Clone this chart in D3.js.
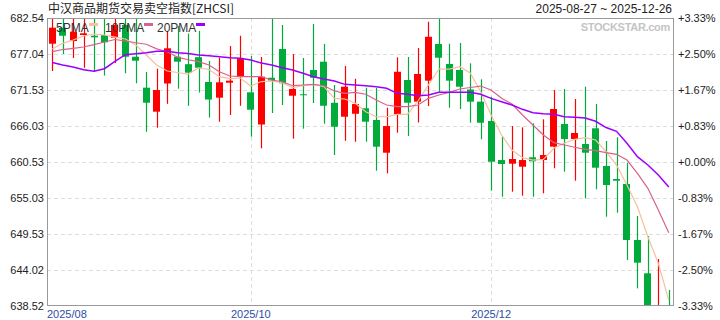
<script src="https://d3js.org/d3.v7.min.js"></script>
<style>
    body { background: #fff; margin: 0; font-family: "Liberation Sans", Arial, sans-serif; }
    svg { display: block; }
</style>
<svg width="720" height="320"></svg>
<script>
    // candles (60 sessions)
    const open  = [678.61,681.06,679.02,679.94,679.83,679.94,679.53,681.47,676.62,671.89,
                   668.22,672.53,676.62,675.48,676.55,672.76,670.36,672.65,673.67,671.18,
                   666.26,673.41,677.80,670.66,670.88,674.59,675.86,669.58,667.45,667.90,
                   668.74,666.95,661.95,667.83,673.06,669.75,672.96,678.57,675.51,674.59,
                   671.61,669.75,666.80,660.83,660.27,659.81,661.25,660.83,662.87,666.34,
                   664.04,663.28,665.68,659.92,657.93,657.17,648.61,643.52,638.52,638.62];
    const close = [681.06,679.83,680.45,680.20,679.59,678.82,681.47,676.62,676.01,669.59,
                   671.53,677.91,675.86,674.18,674.94,670.08,672.71,672.96,676.38,668.52,
                   673.57,672.99,672.56,671.69,670.80,673.41,669.13,665.92,672.04,669.39,
                   666.69,662.87,666.03,674.32,669.59,673.98,679.67,676.47,672.96,672.04,
                   669.75,666.53,660.57,660.22,660.99,660.83,660.64,661.60,668.63,664.04,
                   664.96,661.95,659.66,657.01,657.67,648.61,645.14,638.52,638.60,638.52];
    const high  = [682.54,682.54,682.54,682.54,682.54,682.54,682.54,682.54,682.54,674.29,
                   674.79,680.58,681.32,680.15,680.58,675.97,676.47,678.26,679.83,676.73,
                   676.58,682.54,681.47,677.04,676.43,681.62,678.57,672.30,675.20,673.26,
                   671.89,671.84,668.83,676.53,676.58,677.95,681.97,682.49,678.61,678.72,
                   675.61,673.17,670.51,664.50,666.03,665.83,666.44,667.05,671.53,671.69,
                   670.16,672.04,669.39,663.74,664.30,660.42,652.27,649.22,645.70,640.96];
    const low   = [674.44,677.04,676.42,674.94,674.30,673.75,675.66,674.09,672.56,665.16,
                   665.77,669.42,671.75,669.12,671.15,667.33,666.69,667.71,669.13,664.40,
                   662.62,668.02,669.24,664.09,665.62,669.55,666.38,661.60,663.77,663.63,
                   663.63,659.20,658.80,665.01,664.50,666.57,669.09,671.27,668.83,668.63,
                   666.54,664.00,656.14,655.22,655.99,655.38,655.22,655.74,659.57,659.05,
                   657.67,654.98,656.36,652.17,652.78,645.55,641.22,638.52,638.52,638.52];

    // moving averages as printed on the chart
    const ma5  = [677.80,678.67,679.18,679.79,680.09,679.94,679.63,679.33,678.41,676.88,
                  675.35,674.44,674.21,673.98,674.90,674.67,673.57,673.26,673.37,672.14,
                  672.83,672.91,672.65,671.89,672.19,672.40,672.04,670.26,670.16,669.50,
                  668.22,667.45,667.45,667.82,667.82,669.85,672.30,674.74,674.74,675.09,
                  674.13,671.27,667.71,664.66,662.36,661.19,660.83,660.94,662.62,663.39,
                  664.00,664.24,663.89,662.10,660.07,657.01,653.70,649.11,645.04,639.43];
    const ma10 = [677.39,677.72,677.91,678.11,678.46,678.87,679.25,679.02,678.76,678.53,
                  677.83,677.39,676.55,676.16,675.86,675.35,674.33,673.67,673.57,673.57,
                  673.57,673.06,672.80,672.19,672.30,672.40,672.19,671.38,671.03,671.18,
                  670.88,670.00,669.24,668.98,668.98,669.24,670.26,670.77,671.18,671.69,
                  671.92,672.14,671.53,670.26,669.39,667.71,666.18,664.66,663.48,663.13,
                  662.78,662.47,662.26,661.95,661.70,660.83,658.80,656.51,653.19,649.72];
    const ma20 = [675.74,675.35,675.05,674.64,674.39,674.79,675.92,676.93,677.08,677.23,
                  677.45,677.45,677.23,677.11,676.88,676.76,676.62,676.47,676.38,676.12,
                  675.66,675.35,674.94,674.59,674.09,673.57,673.21,672.91,672.40,672.30,
                  672.19,672.04,671.79,671.03,670.88,670.66,670.77,671.18,671.18,671.18,
                  671.18,670.88,670.26,669.75,669.24,668.58,668.06,667.91,667.82,667.45,
                  667.36,667.25,666.75,665.80,665.22,663.39,661.34,660.07,658.54,656.71];

    const yTicks = [682.54,677.04,671.53,666.03,660.53,655.03,649.53,644.02,638.52];
    const pctLabels = ["+3.33%","+2.50%","+1.67%","+0.83%","+0.00%","-0.83%","-1.67%","-2.50%","-3.33%"];
    const monthIdx = [0, 19, 42];
    const monthLabels = ["2025/08", "2025/10", "2025/12"];

    const W = 720, H = 320;
    const m = { l: 47, r: 46, t: 18, b: 14 };
    const svg = d3.select("svg");
    const idx = d3.range(open.length);

    const x = d3.scaleBand().domain(idx).range([m.l, W - m.r]).paddingInner(0.33).paddingOuter(0.165);
    const y = d3.scaleLinear().domain([638.52, 682.54]).range([H - m.b, m.t]);
    const cx = i => x(i) + x.bandwidth() / 2;

    svg.append("defs").append("clipPath").attr("id", "plot")
        .append("rect").attr("x", m.l).attr("y", m.t).attr("width", W - m.l - m.r).attr("height", H - m.t - m.b);

    // grid
    svg.append("g").selectAll("line").data(yTicks.slice(1, -1)).join("line")
        .attr("x1", m.l).attr("x2", W - m.r).attr("y1", d => Math.round(y(d)) + 0.5).attr("y2", d => Math.round(y(d)) + 0.5)
        .attr("stroke", "#ddd").attr("stroke-dasharray", "4,3");
    svg.append("g").selectAll("line").data(monthIdx.slice(1)).join("line")
        .attr("x1", d => Math.round(cx(d)) + 0.5).attr("x2", d => Math.round(cx(d)) + 0.5)
        .attr("y1", m.t).attr("y2", H - m.b)
        .attr("stroke", "#ddd").attr("stroke-dasharray", "4,3");

    // watermark
    svg.append("text").attr("x", 670).attr("y", 31).attr("text-anchor", "end")
        .attr("font-size", 11).attr("font-weight", "bold").attr("fill", "#c4c4c4")
        .attr("letter-spacing", -0.3).text("STOCKSTAR.com");

    const plot = svg.append("g").attr("clip-path", "url(#plot)");

    // candles
    const up = i => close[i] >= open[i];
    const c = plot.selectAll("g.c").data(idx).join("g").attr("class", "c")
        .attr("fill", i => up(i) ? "#ff0000" : "#00aa3b")
        .attr("stroke", i => up(i) ? "#ff0000" : "#00aa3b");
    c.append("line")
        .attr("x1", i => Math.round(cx(i)) + 0.5).attr("x2", i => Math.round(cx(i)) + 0.5)
        .attr("y1", i => y(high[i])).attr("y2", i => y(low[i])).attr("stroke-width", 1.2);
    c.append("rect")
        .attr("x", i => Math.round(cx(i) - 3.5)).attr("width", 7)
        .attr("y", i => y(Math.max(open[i], close[i])))
        .attr("height", i => Math.max(1, Math.abs(y(open[i]) - y(close[i]))))
        .attr("stroke", "none");

    // moving averages
    const line = s => d3.line().x(i => cx(i)).y(i => y(s[i]))(idx);
    [[ma5, "#f7bf9c", 1.2], [ma10, "#d8628c", 1.2], [ma20, "#9b00ff", 1.5]].forEach(([s, col, w]) => {
        plot.append("path").attr("d", line(s)).attr("fill", "none").attr("stroke", col).attr("stroke-width", w);
    });

    // frame
    svg.append("rect").attr("x", m.l + 0.5).attr("y", m.t + 0.5)
        .attr("width", W - m.l - m.r - 1).attr("height", H - m.t - m.b - 1)
        .attr("fill", "none").attr("stroke", "#999");

    // axes
    const yl = svg.append("g").attr("transform", `translate(${m.l - 3},0)`)
        .call(d3.axisLeft(y).tickValues(yTicks).tickSize(0).tickPadding(0).tickFormat(d3.format(".2f")));
    yl.select(".domain").remove();
    yl.selectAll("text").attr("font-size", 11).attr("fill", "#222").attr("font-family", "Liberation Sans, Arial");

    const yr = svg.append("g").attr("transform", `translate(${W - m.r + 4},0)`)
        .call(d3.axisRight(y).tickValues(yTicks).tickSize(0).tickPadding(0).tickFormat((d, i) => pctLabels[i]));
    yr.select(".domain").remove();
    yr.selectAll("text").attr("font-size", 11).attr("fill", "#222").attr("font-family", "Liberation Sans, Arial");

    svg.append("g").selectAll("text").data(monthIdx).join("text")
        .attr("x", (d, i) => i === 0 ? m.l : cx(d))
        .attr("y", H - 2)
        .attr("text-anchor", (d, i) => i === 0 ? "start" : "middle")
        .attr("font-size", 11).attr("fill", "#2b4ea0")
        .text((d, i) => monthLabels[i]);

    // title and date range
    svg.append("text").attr("x", 48).attr("y", 13).attr("font-size", 12).attr("fill", "#222")
        .attr("font-family", "Noto Sans CJK SC").text("中汉商品期货交易卖空指数[ZHCSI]");
    svg.append("text").attr("x", 672).attr("y", 13).attr("text-anchor", "end")
        .attr("font-size", 12).attr("fill", "#222").text("2025-08-27 ~ 2025-12-26");

    // legend
    const legend = [["5PMA", "#f7bf9c", 56], ["10PMA", "#d8628c", 105], ["20PMA", "#9b00ff", 157]];
    const lg = svg.append("g").selectAll("g").data(legend).join("g");
    lg.append("text").attr("x", d => d[2]).attr("y", 32).attr("font-size", 12).attr("fill", "#333").text(d => d[0]);
    lg.append("rect").attr("x", d => d[2] + (d[0].length === 4 ? 33 : 39)).attr("y", 23)
        .attr("width", 9).attr("height", 3).attr("fill", d => d[1]);
</script>
